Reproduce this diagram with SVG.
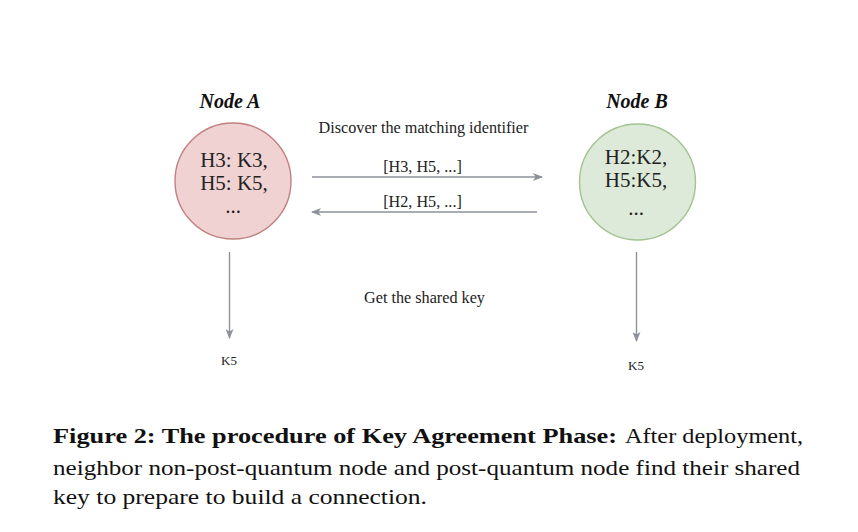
<svg xmlns="http://www.w3.org/2000/svg" width="858" height="532" viewBox="0 0 858 532">
<style>
.lbl{font-family:"Liberation Serif","Times New Roman",serif;fill:#222;}
.node-text{font-family:"Liberation Serif","Times New Roman",serif;font-size:21px;fill:#222;text-anchor:middle;}
.title{font-family:"Liberation Serif","Times New Roman",serif;font-size:20px;font-weight:bold;font-style:italic;fill:#111;text-anchor:middle;}
.edge{fill:none;stroke:#8d9199;stroke-width:1.4;}
.cap{font-family:"Liberation Serif","Times New Roman",serif;font-size:21px;fill:#111;}
</style>
<defs>
<marker id="ah" viewBox="0 0 10 8" refX="9" refY="4" markerWidth="10" markerHeight="8" markerUnits="userSpaceOnUse" orient="auto">
<path d="M0,0 L10,4 L0,8 L2.5,4 z" fill="#8d9199"/>
</marker>
</defs>
<rect width="858" height="532" fill="#ffffff"/>
<g id="nodeA">
<text class="title" x="230" y="108">Node A</text>
<circle cx="233" cy="181" r="58" fill="#efd2d1" stroke="#c0817e" stroke-width="1.4"/>
<text class="node-text" x="234" y="167">H3: K3,</text>
<text class="node-text" x="234" y="190">H5: K5,</text>
<text class="node-text" x="233" y="213">...</text>
</g>
<g id="nodeB">
<text class="title" x="637" y="108">Node B</text>
<circle cx="637.5" cy="182" r="58" fill="#dde9d9" stroke="#a2c48f" stroke-width="1.4"/>
<text class="node-text" x="636" y="164">H2:K2,</text>
<text class="node-text" x="636" y="187">H5:K5,</text>
<text class="node-text" x="636" y="215">...</text>
</g>
<g id="keyA">
<text class="lbl" x="229" y="365" font-size="13" text-anchor="middle">K5</text>
</g>
<g id="keyB">
<text class="lbl" x="636" y="370" font-size="13" text-anchor="middle">K5</text>
</g>
<g id="connectors">
<line class="edge" x1="312" y1="177" x2="542" y2="177" marker-end="url(#ah)"/>
<line class="edge" x1="537" y1="212" x2="312" y2="212" marker-end="url(#ah)"/>
<line class="edge" x1="229.5" y1="252" x2="229.5" y2="338" marker-end="url(#ah)"/>
<line class="edge" x1="636.5" y1="252" x2="636.5" y2="341" marker-end="url(#ah)"/>
<text class="lbl" x="423.5" y="133" font-size="16.2" text-anchor="middle">Discover the matching identifier</text>
<text class="lbl" x="422.5" y="172" font-size="16.2" text-anchor="middle">[H3, H5, ...]</text>
<text class="lbl" x="422.5" y="207" font-size="16.2" text-anchor="middle">[H2, H5, ...]</text>
<text class="lbl" x="424.5" y="303" font-size="16.2" text-anchor="middle">Get the shared key</text>
</g>
<g id="caption">
<text class="cap" x="53" y="443" font-weight="bold" textLength="564" lengthAdjust="spacingAndGlyphs">Figure 2: The procedure of Key Agreement Phase:</text>
<text class="cap" x="625" y="443" textLength="178" lengthAdjust="spacingAndGlyphs">After deployment,</text>
<text class="cap" x="53" y="475" textLength="747" lengthAdjust="spacingAndGlyphs">neighbor non-post-quantum node and post-quantum node find their shared</text>
<text class="cap" x="53" y="504" textLength="374" lengthAdjust="spacingAndGlyphs">key to prepare to build a connection.</text>
</g>
</svg>
